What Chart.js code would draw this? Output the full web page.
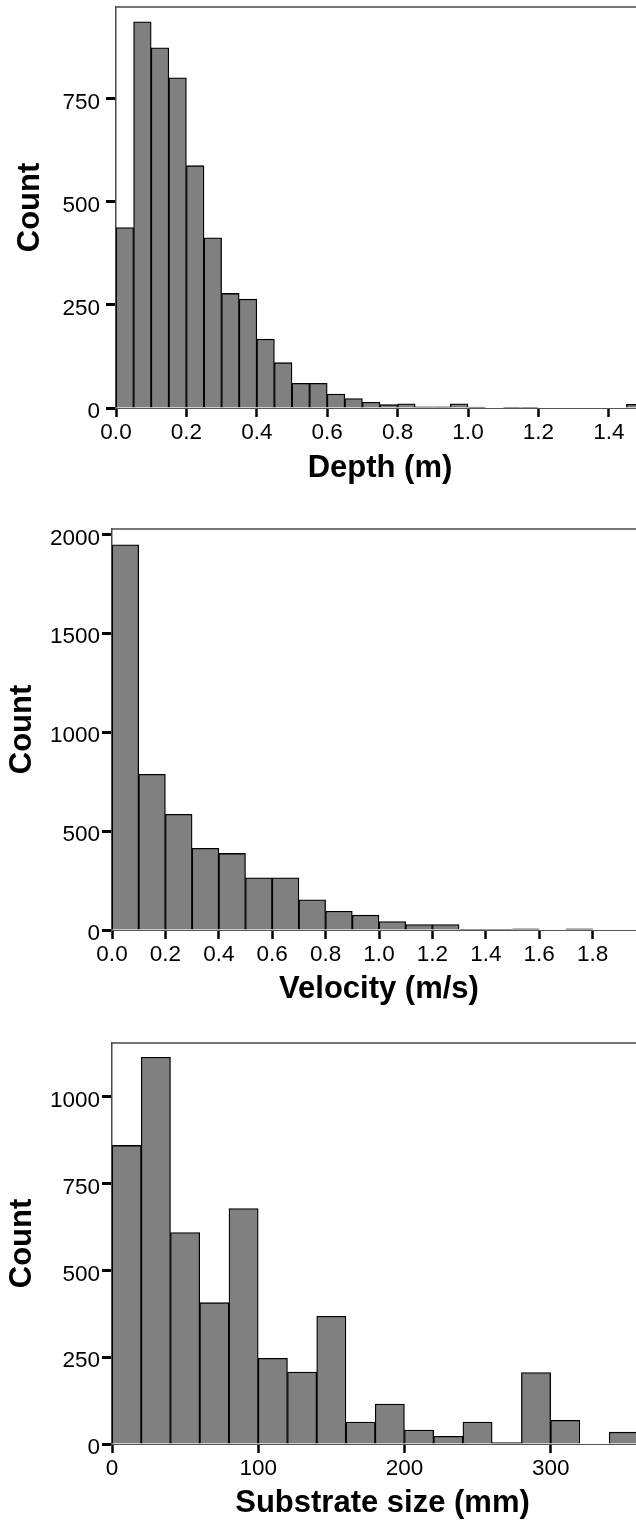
<!DOCTYPE html>
<html>
<head>
<meta charset="utf-8">
<script src="https://cdn.jsdelivr.net/npm/chart.js@4.4.0/dist/chart.umd.min.js"></script>
<style>
  html, body { margin: 0; padding: 0; background: #fff; overflow: hidden; width: 636px; height: 1522px; }
  .panel { position: absolute; left: 0; }
  canvas { display: block; }
</style>
</head>
<body>
<div class="panel" style="top:0px"><canvas id="depthChart" width="670" height="487"></canvas></div>
<div class="panel" style="top:500px"><canvas id="velocityChart" width="670" height="508"></canvas></div>
<div class="panel" style="top:1010px"><canvas id="substrateChart" width="670" height="512"></canvas></div>
<script>
// ---- Depth (m): bins of 0.05 m starting at 0 ----
const depthBinWidth = 0.05;
const depthCounts = [438, 937, 874, 801, 588, 413, 278, 264, 167, 110,
                     60, 60, 34, 23, 14, 8, 10, 3, 3, 10,
                     2, 0, 1, 1, 0, 0, 0, 0, 0, 9];
const depthXTicks = [0, 0.2, 0.4, 0.6, 0.8, 1.0, 1.2, 1.4];
const depthYTicks = [0, 250, 500, 750];

// ---- Velocity (m/s): bins of 0.1 m/s starting at 0 ----
const velocityBinWidth = 0.1;
const velocityCounts = [1947, 787, 585, 413, 387, 264, 264, 153, 95, 75,
                        43, 28, 28, 3, 3, 6, 0, 6, 0, 0];
const velocityXTicks = [0, 0.2, 0.4, 0.6, 0.8, 1.0, 1.2, 1.4, 1.6, 1.8];
const velocityYTicks = [0, 500, 1000, 1500, 2000];

// ---- Substrate size (mm): bins of 20 mm starting at 0 ----
const substrateBinWidth = 20;
const substrateCounts = [860, 1114, 609, 407, 678, 247, 207, 368, 63, 115,
                         40, 22, 63, 4, 206, 68, 0, 34];
const substrateXTicks = [0, 100, 200, 300];
const substrateYTicks = [0, 250, 500, 750, 1000];

const FONT = "'Liberation Sans', Arial, Helvetica, sans-serif";
const FRAME_COLOR = '#4a4a4a';

// top and right edges of the plot frame
const framePlugin = {
  id: 'frame',
  afterDatasetsDraw(chart) {
    const { ctx, chartArea: a } = chart;
    ctx.save();
    ctx.strokeStyle = FRAME_COLOR;
    ctx.lineWidth = 1.5;
    ctx.beginPath();
    ctx.moveTo(a.left, a.top);
    ctx.lineTo(a.right, a.top);
    ctx.lineTo(a.right, a.bottom);
    ctx.stroke();
    ctx.restore();
  }
};

function histogram(canvasId, cfg) {
  const points = cfg.counts.map((c, i) => ({ x: (i + 0.5) * cfg.binWidth, y: c }));
  return new Chart(document.getElementById(canvasId), {
    type: 'bar',
    data: {
      datasets: [{
        data: points,
        backgroundColor: '#808080',
        borderColor: '#000000',
        borderWidth: 1.3,
        barPercentage: 1,
        categoryPercentage: 1
      }]
    },
    options: {
      responsive: false,
      animation: false,
      events: [],
      layout: { padding: { top: cfg.padTop, right: cfg.padRight, left: 0, bottom: 0 } },
      plugins: { legend: { display: false }, tooltip: { enabled: false } },
      scales: {
        x: {
          type: 'linear',
          min: 0,
          max: cfg.xMax,
          offset: false,
          afterBuildTicks: s => { s.ticks = cfg.xTicks.map(v => ({ value: v })); },
          afterFit: s => {
            s.height = cfg.xAxisHeight;
            s.paddingLeft = 0; s.paddingRight = 0;
          },
          grid: { display: true, offset: false, drawOnChartArea: false, drawTicks: true,
                  tickLength: 9, tickWidth: 2.5, tickColor: '#000' },
          border: { display: true, color: '#555', width: 1 },
          ticks: {
            color: '#000', padding: 2.5, maxRotation: 0, autoSkip: false,
            font: { family: FONT, size: 22.5 },
            callback: v => cfg.xFormat(v)
          },
          title: {
            display: true, text: cfg.xTitle, color: '#000',
            padding: { top: 0, bottom: 0 },
            font: { family: FONT, size: 31, weight: 'bold' }
          }
        },
        y: {
          min: 0,
          max: cfg.yMax,
          afterBuildTicks: s => { s.ticks = cfg.yTicks.map(v => ({ value: v })); },
          afterFit: s => {
            s.width = cfg.yAxisWidth;
            s.paddingTop = 0; s.paddingBottom = 0;
          },
          grid: { display: true, drawOnChartArea: false, drawTicks: true,
                  tickLength: 10, tickWidth: 3, tickColor: '#000' },
          border: { display: true, color: FRAME_COLOR, width: 1.5 },
          ticks: {
            color: '#000', padding: cfg.yLabelPad, labelOffset: 4,
            font: { family: FONT, size: 22.5 },
            callback: v => String(v)
          },
          title: {
            display: true, text: 'Count', color: '#000',
            padding: { top: cfg.yTitlePad, bottom: 0 },
            font: { family: FONT, size: 31, weight: 'bold' }
          }
        }
      }
    },
    plugins: [framePlugin]
  });
}

histogram('depthChart', {
  counts: depthCounts, binWidth: depthBinWidth,
  xTicks: depthXTicks, yTicks: depthYTicks,
  xMax: 1.5, yMax: 973,
  xFormat: v => v.toFixed(1), xTitle: 'Depth (m)',
  padTop: 7, padRight: 26, yAxisWidth: 116, xAxisHeight: 79,
  yLabelPad: 6, yTitlePad: 11.4
});

histogram('velocityChart', {
  counts: velocityCounts, binWidth: velocityBinWidth,
  xTicks: velocityXTicks, yTicks: velocityYTicks,
  xMax: 2.0, yMax: 2027,
  xFormat: v => v.toFixed(1), xTitle: 'Velocity (m/s)',
  padTop: 29, padRight: 24, yAxisWidth: 112, xAxisHeight: 78,
  yLabelPad: 2, yTitlePad: 3.9
});

histogram('substrateChart', {
  counts: substrateCounts, binWidth: substrateBinWidth,
  xTicks: substrateXTicks, yTicks: substrateYTicks,
  xMax: 370, yMax: 1155,
  xFormat: v => String(v), xTitle: 'Substrate size (mm)',
  padTop: 33, padRight: 17, yAxisWidth: 112, xAxisHeight: 78,
  yLabelPad: 2, yTitlePad: 3.9
});
</script>
</body>
</html>
